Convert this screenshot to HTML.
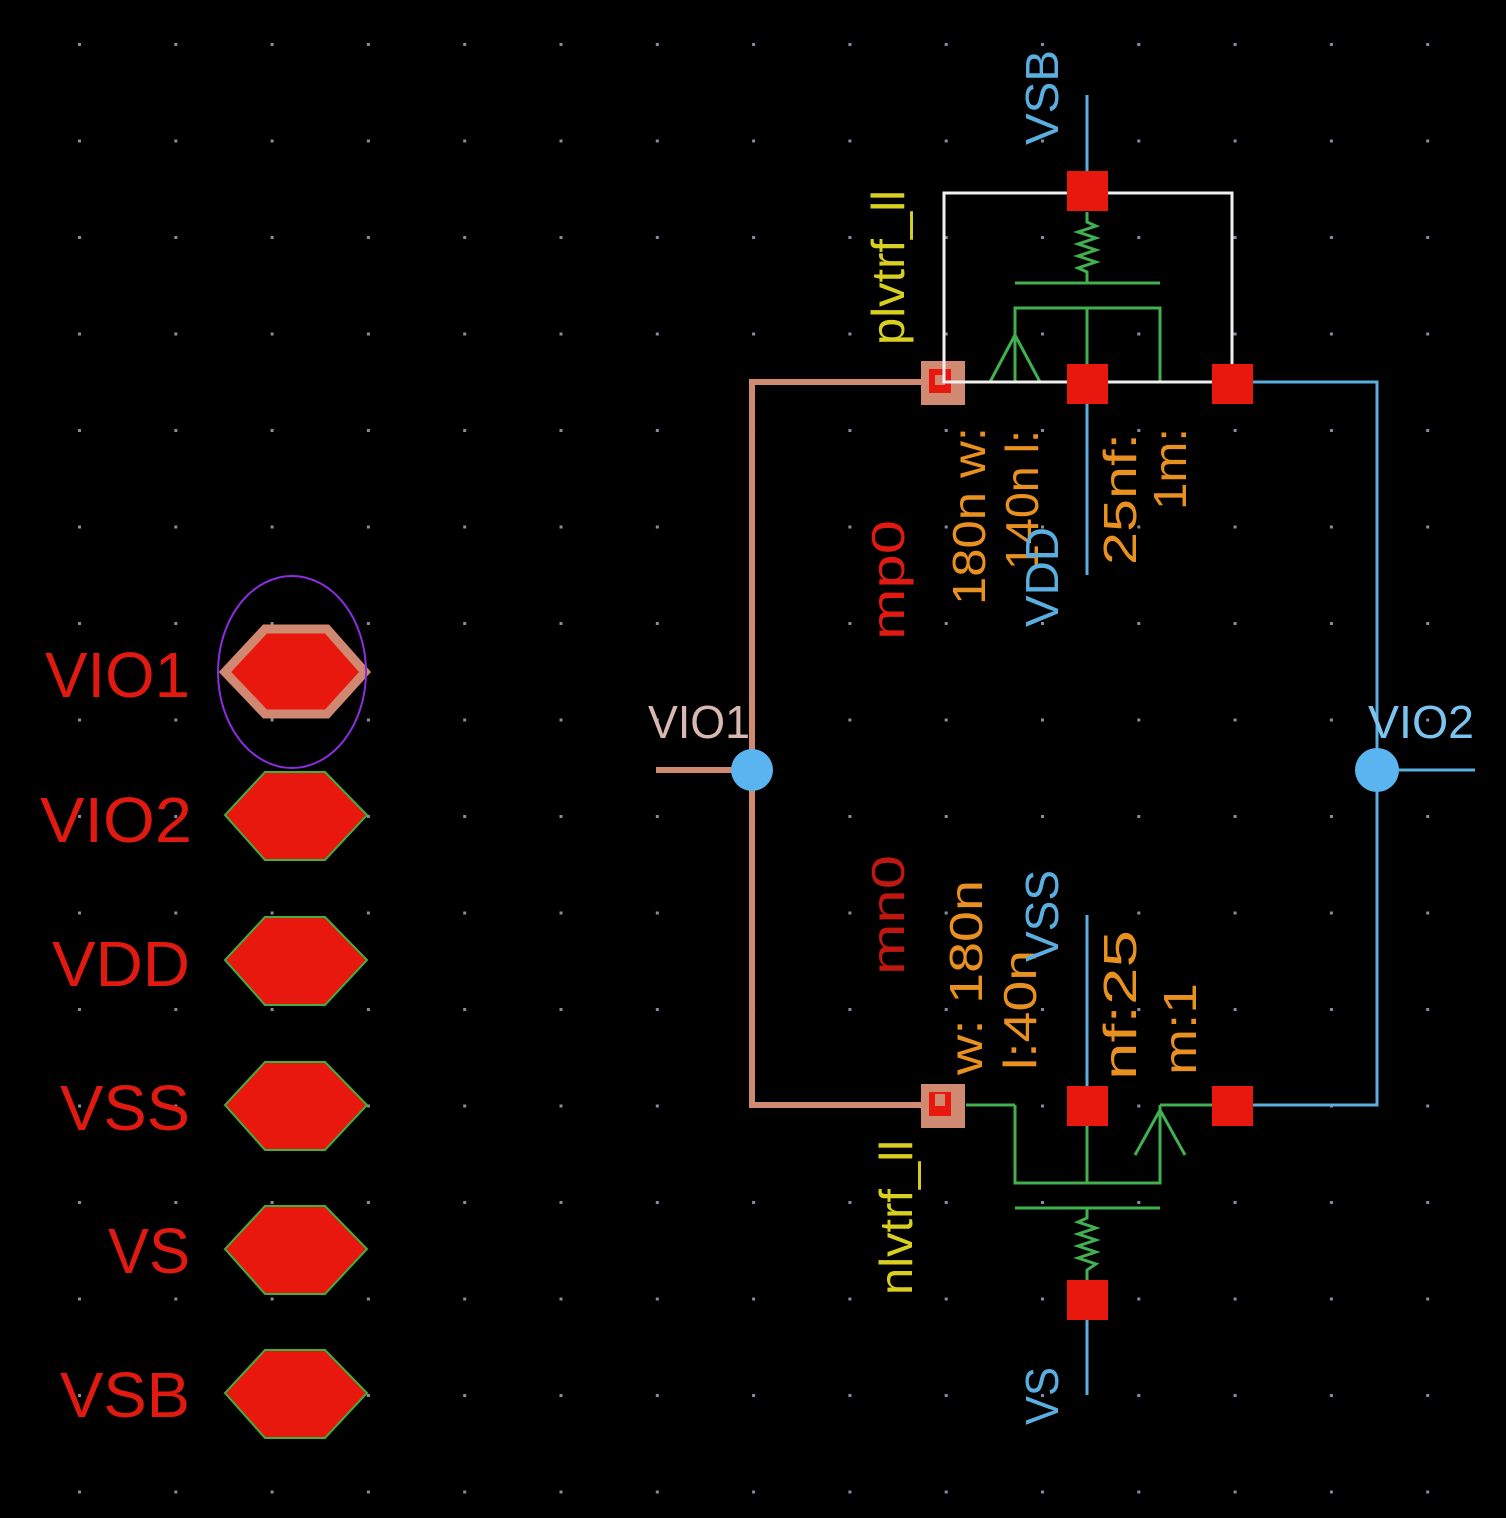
<!DOCTYPE html>
<html><head><meta charset="utf-8"><style>
html,body{margin:0;padding:0;background:#000;}
svg{display:block}
text{font-family:"Liberation Sans",sans-serif;}
</style></head><body>
<svg width="1506" height="1518" viewBox="0 0 1506 1518" xmlns="http://www.w3.org/2000/svg">
<rect width="1506" height="1518" fill="#000"/>
<defs>
<pattern id="g" x="78" y="43" width="96.3" height="96.5" patternUnits="userSpaceOnUse">
<rect x="0" y="0" width="3" height="3" fill="#8a8aa0"/>
</pattern>
</defs>
<rect width="1506" height="1518" fill="url(#g)"/>

<!-- left pins -->
<g font-size="64" fill="#e01a10" text-anchor="end">
<text x="190" y="697" textLength="145" lengthAdjust="spacingAndGlyphs">VIO1</text>
<text x="192" y="842" textLength="152" lengthAdjust="spacingAndGlyphs">VIO2</text>
<text x="190" y="986" textLength="138" lengthAdjust="spacingAndGlyphs">VDD</text>
<text x="190" y="1130" textLength="130" lengthAdjust="spacingAndGlyphs">VSS</text>
<text x="190" y="1273" textLength="82" lengthAdjust="spacingAndGlyphs">VS</text>
<text x="190" y="1417" textLength="130" lengthAdjust="spacingAndGlyphs">VSB</text>
</g>
<g fill="#e8180e" stroke="#3fb040" stroke-width="2">
<polygon points="225,815 265,772 325,772 367,815 325,860 265,860"/>
<polygon points="225,960 265,917 325,917 367,960 325,1005 265,1005"/>
<polygon points="225,1105 265,1062 325,1062 367,1105 325,1150 265,1150"/>
<polygon points="225,1249 265,1206 325,1206 367,1249 325,1294 265,1294"/>
<polygon points="225,1393 265,1350 325,1350 367,1393 325,1438 265,1438"/>
</g>
<polygon points="225,672 265,629 327,629 365,672 327,714 265,714" fill="#e8180e" stroke="#d08870" stroke-width="9"/>
<ellipse cx="292" cy="672" rx="74" ry="96" fill="none" stroke="#8a2ee0" stroke-width="2"/>

<!-- wires pink -->
<g fill="none" stroke="#d08a72" stroke-width="6">
<polyline points="943,382 752,382 752,1105 943,1105"/>
<line x1="656" y1="770" x2="752" y2="770"/>
</g>
<rect x="921" y="361" width="44" height="44" fill="#d08a72"/>
<rect x="929" y="369" width="22" height="24" fill="#e8180e"/>
<rect x="935" y="375" width="10" height="10" fill="#d08a72"/>
<rect x="921" y="1084" width="44" height="44" fill="#d08a72"/>
<rect x="929" y="1092" width="22" height="24" fill="#e8180e"/>
<rect x="935" y="1094" width="10" height="12" fill="#d08a72"/>

<!-- blue wires -->
<g fill="none" stroke="#5aaee0" stroke-width="3">
<polyline points="1232,382 1377,382 1377,1105 1232,1105"/>
<line x1="1377" y1="770" x2="1475" y2="770"/>
<line x1="1087" y1="95" x2="1087" y2="190"/>
<line x1="1087" y1="382" x2="1087" y2="575"/>
<line x1="1087" y1="915" x2="1087" y2="1105"/>
<line x1="1087" y1="1300" x2="1087" y2="1395"/>
</g>
<circle cx="752" cy="770" r="21" fill="#5ab4f0"/>
<circle cx="1377" cy="770" r="22" fill="#5ab4f0"/>

<!-- top transistor -->
<g fill="none" stroke="#40b050" stroke-width="3">
<line x1="1015" y1="283" x2="1160" y2="283"/>
<polyline points="1015,382 1015,308 1160,308 1160,382"/>
<line x1="1087" y1="308" x2="1087" y2="382"/>
<polyline points="990,382 1015,335 1040,382"/>
<polyline points="1087,283 1087,272 1078,268 1096,262 1078,256 1096,250 1078,244 1096,238 1078,232 1096,226 1087,222 1087,212"/>
<line x1="966" y1="1105" x2="1015" y2="1105"/>
<polyline points="1015,1105 1015,1183 1160,1183 1160,1105"/>
<line x1="1087" y1="1105" x2="1087" y2="1183"/>
<line x1="1160" y1="1105" x2="1232" y2="1105"/>
<polyline points="1135,1155 1160,1110 1185,1155"/>
<line x1="1015" y1="1208" x2="1160" y2="1208"/>
<polyline points="1087,1208 1087,1218 1078,1222 1096,1228 1078,1234 1096,1240 1078,1246 1096,1252 1078,1258 1096,1264 1087,1270 1087,1280"/>
</g>
<rect x="944" y="193" width="288" height="189" fill="none" stroke="#f0f0f0" stroke-width="3"/>
<g fill="#e8180e">
<rect x="1067" y="171" width="41" height="40"/>
<rect x="1067" y="364" width="41" height="40"/>
<rect x="1212" y="364" width="41" height="40"/>
<rect x="1067" y="1086" width="41" height="40"/>
<rect x="1212" y="1086" width="41" height="40"/>
<rect x="1067" y="1280" width="41" height="40"/>
</g>

<!-- labels -->
<text x="648" y="738" font-size="46" fill="#d8b8b0" textLength="102" lengthAdjust="spacingAndGlyphs">VIO1</text>
<text x="1368" y="738" font-size="46" fill="#7cc4f0" textLength="106" lengthAdjust="spacingAndGlyphs">VIO2</text>

<g font-size="46">
<text transform="translate(1058,145) rotate(-90)" fill="#5aaee0" textLength="95" lengthAdjust="spacingAndGlyphs">VSB</text>
<text transform="translate(904,345) rotate(-90)" fill="#d8d020" textLength="155" lengthAdjust="spacingAndGlyphs">plvtrf_ll</text>
<text transform="translate(904,640) rotate(-90)" fill="#e01a10" textLength="120" lengthAdjust="spacingAndGlyphs">mp0</text>
<text transform="translate(985,605) rotate(-90)" fill="#e89020" textLength="178" lengthAdjust="spacingAndGlyphs">180n w:</text>
<text transform="translate(1038,570) rotate(-90)" fill="#e89020" textLength="140" lengthAdjust="spacingAndGlyphs">140n l:</text>
<text transform="translate(1058,627) rotate(-90)" fill="#5aaee0" textLength="100" lengthAdjust="spacingAndGlyphs">VDD</text>
<text transform="translate(1136,565) rotate(-90)" fill="#e89020" textLength="132" lengthAdjust="spacingAndGlyphs">25nf:</text>
<text transform="translate(1186,510) rotate(-90)" fill="#e89020" textLength="82" lengthAdjust="spacingAndGlyphs">1m:</text>

<text transform="translate(904,975) rotate(-90)" fill="#c01810" textLength="120" lengthAdjust="spacingAndGlyphs">mn0</text>
<text transform="translate(982,1075) rotate(-90)" fill="#e89020" textLength="195" lengthAdjust="spacingAndGlyphs">w: 180n</text>
<text transform="translate(1036,1070) rotate(-90)" fill="#e89020" textLength="120" lengthAdjust="spacingAndGlyphs">l:40n</text>
<text transform="translate(1058,962) rotate(-90)" fill="#5aaee0" textLength="92" lengthAdjust="spacingAndGlyphs">VSS</text>
<text transform="translate(1136,1080) rotate(-90)" fill="#e89020" textLength="150" lengthAdjust="spacingAndGlyphs">nf:25</text>
<text transform="translate(1196,1075) rotate(-90)" fill="#e89020" textLength="92" lengthAdjust="spacingAndGlyphs">m:1</text>
<text transform="translate(912,1295) rotate(-90)" fill="#d8d020" textLength="155" lengthAdjust="spacingAndGlyphs">nlvtrf_ll</text>
<text transform="translate(1058,1425) rotate(-90)" fill="#5aaee0" textLength="58" lengthAdjust="spacingAndGlyphs">VS</text>
</g>
</svg>
</body></html>
